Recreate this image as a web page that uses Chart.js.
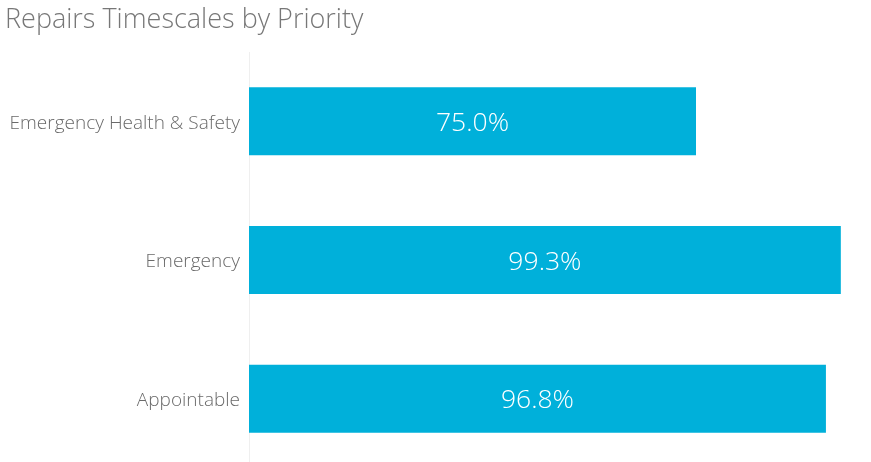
<!DOCTYPE html>
<html><head><meta charset="utf-8">
<script src="https://cdn.jsdelivr.net/npm/chart.js@4/dist/chart.umd.min.js"></script>
<style>html,body{margin:0;padding:0;overflow:hidden;background:#fff}</style>
</head><body><canvas id="c" width="871" height="468"></canvas>
<script>
const categories = ["Emergency Health & Safety", "Emergency", "Appointable"];
const values = [75.0, 99.3, 96.8];
const valueLabels = ["75.0%", "99.3%", "96.8%"];
const titleText = "Repairs Timescales by Priority";
const FONT = '"Open Sans", "Noto Sans", sans-serif';

const labelPlugin = {
  id: 'barLabels',
  afterDatasetsDraw(chart) {
    const ctx = chart.ctx;
    const meta = chart.getDatasetMeta(0);
    ctx.save();
    ctx.fillStyle = '#ffffff';
    ctx.font = '300 26.5px ' + FONT;
    ctx.textAlign = 'center';
    ctx.textBaseline = 'middle';
    meta.data.forEach((bar, i) => {
      const x = (bar.x + bar.base) / 2;
      ctx.fillText(valueLabels[i], x, bar.y + 2);
    });
    ctx.restore();
  }
};

new Chart(document.getElementById('c'), {
  type: 'bar',
  data: { labels: categories, datasets: [{ data: values, backgroundColor: '#00B0DA', barPercentage: 0.49, categoryPercentage: 1 }] },
  options: {
    indexAxis: 'y', responsive: false, animation: false,
    layout: { padding: { left: 5, right: 26, top: 0, bottom: 0 } },
    plugins: {
      legend: { display: false }, tooltip: { enabled: false },
      title: { display: true, text: titleText, align: 'start', color: '#777777',
        font: { size: 27, family: FONT, weight: '300' },
        padding: { top: 4, bottom: 15.6 } }
    },
    scales: {
      x: { display: false, min: 0, max: 100 },
      y: {
        afterFit: s => { s.width = 244; s.paddingTop = 0; s.paddingBottom = 0; },
        grid: { display: false, drawTicks: false },
        border: { display: true, color: '#efefef', width: 1 },
        ticks: { color: '#6a6a6a', padding: 9, labelOffset: 2, font: { size: 19, family: FONT, weight: '300' } }
      }
    }
  },
  plugins: [labelPlugin]
});
</script></body></html>
